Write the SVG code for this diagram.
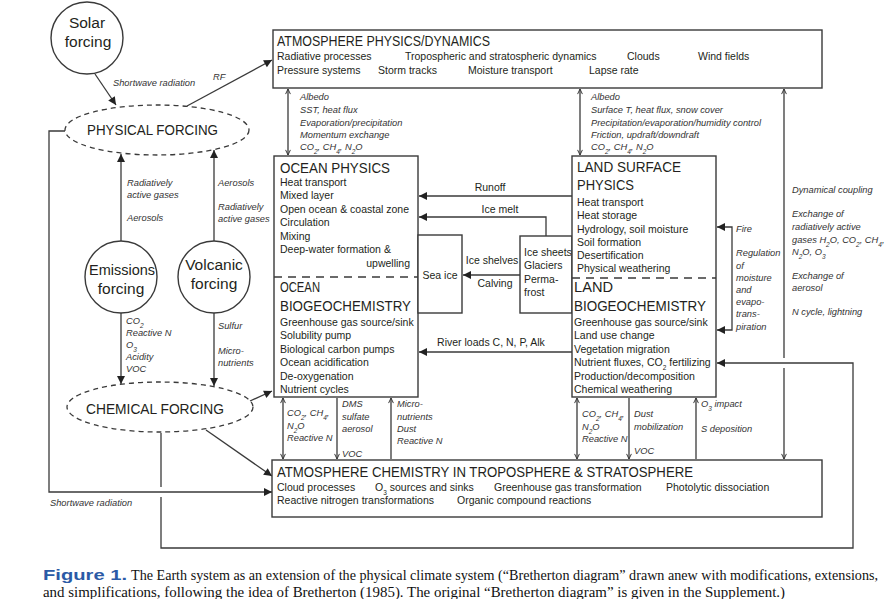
<svg xmlns="http://www.w3.org/2000/svg" width="888" height="599" viewBox="0 0 888 599">
<defs>
<style>
text{font-family:"Liberation Sans",Arial,sans-serif;fill:#231f20}
.b{font-size:10.5px}
.h{font-size:15px}
.c{font-size:15.5px}
.i{font-size:9.3px;font-style:italic;fill:#333}
.box{fill:#fff;stroke:#3a3a3a;stroke-width:1.4}
.ln{fill:none;stroke:#3a3a3a;stroke-width:1.3}
.dash{fill:none;stroke:#3a3a3a;stroke-width:1.3;stroke-dasharray:8 6}
.ell{fill:none;stroke:#3a3a3a;stroke-width:1.3;stroke-dasharray:5 4}
.cap{font-family:"Liberation Serif","Times New Roman",serif;font-size:14px;fill:#111}
.fig{font-family:"Liberation Sans",Arial,sans-serif;font-size:15px;font-weight:bold;fill:#2b5aa6}
.sub{font-size:6.5px;baseline-shift:sub}
</style>
<marker id="tri" viewBox="0 0 10 10" refX="10" refY="5" markerWidth="9" markerHeight="8" markerUnits="userSpaceOnUse" orient="auto-start-reverse"><path d="M0,0 L10,5 L0,10 z" fill="#222"/></marker>
<marker id="v" viewBox="0 0 10 10" refX="9.5" refY="5" markerWidth="6" markerHeight="6" markerUnits="userSpaceOnUse" orient="auto-start-reverse"><path d="M1,1 L9.5,5 L1,9" fill="none" stroke="#333" stroke-width="1.6"/></marker>
</defs>

<g id="connectors">
<path class="ln" d="M95,74 L116,105" marker-end="url(#tri)"/>
<path class="ln" d="M187,106 L272,60" marker-end="url(#tri)"/>
<path class="ln" d="M65,131 H49 V492 H272" marker-end="url(#tri)"/>
<path class="ln" d="M121,241 V154" marker-end="url(#tri)"/>
<path class="ln" d="M214,241 V150" marker-end="url(#tri)"/>
<path class="ln" d="M121,313 V384" marker-end="url(#tri)"/>
<path class="ln" d="M214,313 V386" marker-end="url(#tri)"/>
<path class="ln" d="M250,401 L272,391" marker-end="url(#tri)"/>
<path class="ln" d="M206,430 L272,476" marker-end="url(#tri)"/>
<path class="ln" d="M161,433 V487"/>
<path class="ln" d="M161,497 V548 H853 V363 H717" marker-end="url(#tri)"/>
<path class="ln" d="M572,196 H419" marker-end="url(#tri)"/>
<path class="ln" d="M546,236 V217 H419" marker-end="url(#tri)"/>
<path class="ln" d="M520,275 H463" marker-end="url(#tri)"/>
<path class="ln" d="M572,352 H419" marker-end="url(#tri)"/>
<path class="ln" d="M717,227 H732 V330 H717" marker-start="url(#tri)" marker-end="url(#tri)"/>
<path class="ln" d="M288,89 V155" marker-start="url(#v)" marker-end="url(#v)"/>
<path class="ln" d="M580,89 V155" marker-start="url(#v)" marker-end="url(#v)"/>
<path class="ln" d="M784,358 V89" marker-end="url(#v)"/>
<path class="ln" d="M784,368 V459" marker-end="url(#v)"/>
<path class="ln" d="M283,398 V459" marker-start="url(#v)" marker-end="url(#v)"/>
<path class="ln" d="M337,398 V459" marker-end="url(#v)"/>
<path class="ln" d="M391,459 V398" marker-end="url(#v)"/>
<path class="ln" d="M577,398 V459" marker-start="url(#v)" marker-end="url(#v)"/>
<path class="ln" d="M629,398 V459" marker-end="url(#v)"/>
<path class="ln" d="M696,459 V398" marker-end="url(#v)"/>
</g>

<g id="connector-labels">
<text class="i" x="113" y="86">Shortwave radiation</text>
<text class="i" x="213" y="80">RF</text>
<text class="i" x="127" y="186">Radiatively</text>
<text class="i" x="127" y="198">active gases</text>
<text class="i" x="127" y="221">Aerosols</text>
<text class="i" x="218" y="186">Aerosols</text>
<text class="i" x="218" y="210">Radiatively</text>
<text class="i" x="218" y="222">active gases</text>
<text class="i" x="126" y="324">CO<tspan class="sub">2</tspan></text>
<text class="i" x="126" y="336">Reactive N</text>
<text class="i" x="126" y="348">O<tspan class="sub">3</tspan></text>
<text class="i" x="126" y="360">Acidity</text>
<text class="i" x="126" y="372">VOC</text>
<text class="i" x="218" y="329">Sulfur</text>
<text class="i" x="218" y="354">Micro-</text>
<text class="i" x="218" y="366">nutrients</text>
<text class="i" x="50" y="506">Shortwave radiation</text>
<text class="i" x="300" y="100">Albedo</text>
<text class="i" x="300" y="113">SST, heat flux</text>
<text class="i" x="300" y="126">Evaporation/precipitation</text>
<text class="i" x="300" y="138">Momentum exchange</text>
<text class="i" x="300" y="150">CO<tspan class="sub">2</tspan>, CH<tspan class="sub">4</tspan>, N<tspan class="sub">2</tspan>O</text>
<text class="i" x="591" y="100">Albedo</text>
<text class="i" x="591" y="113">Surface T, heat flux, snow cover</text>
<text class="i" x="591" y="126">Precipitation/evaporation/humidity control</text>
<text class="i" x="591" y="138">Friction, updraft/downdraft</text>
<text class="i" x="591" y="150">CO<tspan class="sub">2</tspan>, CH<tspan class="sub">4</tspan>, N<tspan class="sub">2</tspan>O</text>
<text class="b" x="490" y="191" text-anchor="middle">Runoff</text>
<text class="b" x="500" y="213" text-anchor="middle">Ice melt</text>
<text class="b" x="492" y="264" text-anchor="middle">Ice shelves</text>
<text class="b" x="495" y="287" text-anchor="middle">Calving</text>
<text class="b" x="491" y="346" text-anchor="middle">River loads C, N, P, Alk</text>
<text class="i" x="736" y="232">Fire</text>
<text class="i" x="736" y="256">Regulation</text>
<text class="i" x="736" y="269">of</text>
<text class="i" x="736" y="281">moisture</text>
<text class="i" x="736" y="293">and</text>
<text class="i" x="736" y="305">evapo-</text>
<text class="i" x="736" y="317">trans-</text>
<text class="i" x="736" y="330">piration</text>
<text class="i" x="792" y="193">Dynamical coupling</text>
<text class="i" x="792" y="217">Exchange of</text>
<text class="i" x="792" y="230">radiatively active</text>
<text class="i" x="792" y="243">gases H<tspan class="sub">2</tspan>O, CO<tspan class="sub">2</tspan>, CH<tspan class="sub">4</tspan>,</text>
<text class="i" x="792" y="255">N<tspan class="sub">2</tspan>O, O<tspan class="sub">3</tspan></text>
<text class="i" x="792" y="279">Exchange of</text>
<text class="i" x="792" y="291">aerosol</text>
<text class="i" x="792" y="315">N cycle, lightning</text>
<text class="i" x="287" y="416">CO<tspan class="sub">2</tspan>, CH<tspan class="sub">4</tspan>,</text>
<text class="i" x="287" y="429">N<tspan class="sub">2</tspan>O</text>
<text class="i" x="287" y="441">Reactive N</text>
<text class="i" x="342" y="407">DMS</text>
<text class="i" x="342" y="420">sulfate</text>
<text class="i" x="342" y="432">aerosol</text>
<text class="i" x="342" y="457">VOC</text>
<text class="i" x="397" y="407">Micro-</text>
<text class="i" x="397" y="420">nutrients</text>
<text class="i" x="397" y="432">Dust</text>
<text class="i" x="397" y="444">Reactive N</text>
<text class="i" x="582" y="417">CO<tspan class="sub">2</tspan>, CH<tspan class="sub">4</tspan>,</text>
<text class="i" x="582" y="430">N<tspan class="sub">2</tspan>O</text>
<text class="i" x="582" y="442">Reactive N</text>
<text class="i" x="634" y="417">Dust</text>
<text class="i" x="634" y="430">mobilization</text>
<text class="i" x="634" y="454">VOC</text>
<text class="i" x="701" y="407">O<tspan class="sub">3</tspan> impact</text>
<text class="i" x="701" y="432">S deposition</text>
</g>

<g id="solar-forcing">
<circle cx="87" cy="38" r="36" fill="#fff" stroke="#3a3a3a" stroke-width="1.4"/>
<text class="c" x="87" y="28" text-anchor="middle">Solar</text>
<text class="c" x="88" y="47" text-anchor="middle">forcing</text>
</g>

<g id="physical-forcing">
<ellipse class="ell" cx="157" cy="130" rx="92" ry="25"/>
<text class="c" x="87" y="135" textLength="131" lengthAdjust="spacingAndGlyphs">PHYSICAL FORCING</text>
</g>

<g id="emissions-forcing">
<circle cx="121" cy="277" r="36" fill="#fff" stroke="#3a3a3a" stroke-width="1.4"/>
<text class="c" x="122" y="275" text-anchor="middle" textLength="66" lengthAdjust="spacingAndGlyphs">Emissions</text>
<text class="c" x="121" y="294" text-anchor="middle">forcing</text>
</g>

<g id="volcanic-forcing">
<circle cx="214" cy="277" r="36" fill="#fff" stroke="#3a3a3a" stroke-width="1.4"/>
<text class="c" x="214" y="270" text-anchor="middle">Volcanic</text>
<text class="c" x="214" y="289" text-anchor="middle">forcing</text>
</g>

<g id="chemical-forcing">
<ellipse class="ell" cx="160" cy="407" rx="93" ry="25"/>
<text class="c" x="86" y="414" textLength="138" lengthAdjust="spacingAndGlyphs">CHEMICAL FORCING</text>
</g>

<g id="atmosphere-physics">
<rect class="box" x="273" y="30" width="549" height="58"/>
<text class="h" x="277" y="46" textLength="213" lengthAdjust="spacingAndGlyphs">ATMOSPHERE PHYSICS/DYNAMICS</text>
<text class="b" x="277" y="60">Radiative processes</text>
<text class="b" x="405" y="60">Tropospheric and stratospheric dynamics</text>
<text class="b" x="627" y="60">Clouds</text>
<text class="b" x="698" y="60">Wind fields</text>
<text class="b" x="277" y="74">Pressure systems</text>
<text class="b" x="378" y="74">Storm tracks</text>
<text class="b" x="468" y="74">Moisture transport</text>
<text class="b" x="589" y="74">Lapse rate</text>
</g>

<g id="ocean">
<rect class="box" x="274" y="156" width="144" height="241"/>
<line class="dash" x1="274" y1="277" x2="418" y2="277"/>
<text class="h" x="280" y="173" textLength="110" lengthAdjust="spacingAndGlyphs">OCEAN PHYSICS</text>
<text class="b" x="280" y="186">Heat transport</text>
<text class="b" x="280" y="199">Mixed layer</text>
<text class="b" x="280" y="213">Open ocean &amp; coastal zone</text>
<text class="b" x="280" y="226">Circulation</text>
<text class="b" x="280" y="240">Mixing</text>
<text class="b" x="280" y="253">Deep-water formation &amp;</text>
<text class="b" x="410" y="267" text-anchor="end">upwelling</text>
<text class="h" x="280" y="292" textLength="40" lengthAdjust="spacingAndGlyphs">OCEAN</text>
<text class="h" x="280" y="311" textLength="131" lengthAdjust="spacingAndGlyphs">BIOGEOCHEMISTRY</text>
<text class="b" x="280" y="326">Greenhouse gas source/sink</text>
<text class="b" x="280" y="339">Solubility pump</text>
<text class="b" x="280" y="353">Biological carbon pumps</text>
<text class="b" x="280" y="366">Ocean acidification</text>
<text class="b" x="280" y="380">De-oxygenation</text>
<text class="b" x="280" y="393">Nutrient cycles</text>
</g>

<g id="sea-ice">
<rect class="box" x="418" y="235" width="44" height="78"/>
<text class="b" x="440" y="279" text-anchor="middle">Sea ice</text>
</g>

<g id="ice-sheets">
<rect class="box" x="520" y="236" width="52" height="77"/>
<text class="b" x="524" y="256">Ice sheets</text>
<text class="b" x="524" y="269">Glaciers</text>
<text class="b" x="524" y="283">Perma-</text>
<text class="b" x="524" y="296">frost</text>
</g>

<g id="land">
<rect class="box" x="572" y="156" width="144" height="241"/>
<line class="dash" x1="572" y1="278" x2="716" y2="278"/>
<text class="h" x="577" y="172" textLength="104" lengthAdjust="spacingAndGlyphs">LAND SURFACE</text>
<text class="h" x="577" y="190" textLength="57" lengthAdjust="spacingAndGlyphs">PHYSICS</text>
<text class="b" x="577" y="206">Heat transport</text>
<text class="b" x="577" y="219">Heat storage</text>
<text class="b" x="577" y="233">Hydrology, soil moisture</text>
<text class="b" x="577" y="246">Soil formation</text>
<text class="b" x="577" y="259">Desertification</text>
<text class="b" x="577" y="272">Physical weathering</text>
<text class="h" x="574" y="292" textLength="39" lengthAdjust="spacingAndGlyphs">LAND</text>
<text class="h" x="574" y="311" textLength="132" lengthAdjust="spacingAndGlyphs">BIOGEOCHEMISTRY</text>
<text class="b" x="574" y="326">Greenhouse gas source/sink</text>
<text class="b" x="574" y="339">Land use change</text>
<text class="b" x="574" y="353">Vegetation migration</text>
<text class="b" x="574" y="366">Nutrient fluxes, CO<tspan class="sub">2</tspan> fertilizing</text>
<text class="b" x="574" y="380">Production/decomposition</text>
<text class="b" x="574" y="393">Chemical weathering</text>
</g>

<g id="atmosphere-chemistry">
<rect class="box" x="272" y="460" width="550" height="57"/>
<text class="h" x="277" y="477" textLength="416" lengthAdjust="spacingAndGlyphs">ATMOSPHERE CHEMISTRY IN TROPOSPHERE &amp; STRATOSPHERE</text>
<text class="b" x="277" y="491">Cloud processes</text>
<text class="b" x="375" y="491">O<tspan class="sub">3</tspan> sources and sinks</text>
<text class="b" x="494" y="491">Greenhouse gas transformation</text>
<text class="b" x="666" y="491">Photolytic dissociation</text>
<text class="b" x="277" y="504">Reactive nitrogen transformations</text>
<text class="b" x="457" y="504">Organic compound reactions</text>
</g>

<g id="caption">
<text class="fig" x="43" y="580" textLength="84" lengthAdjust="spacingAndGlyphs">Figure 1.</text>
<text class="cap" x="131" y="580" textLength="747" lengthAdjust="spacingAndGlyphs">The Earth system as an extension of the physical climate system (“Bretherton diagram” drawn anew with modifications, extensions,</text>
<text class="cap" x="43" y="597" textLength="742" lengthAdjust="spacingAndGlyphs">and simplifications, following the idea of Bretherton (1985). The original “Bretherton diagram” is given in the Supplement.)</text>
</g>
</svg>
